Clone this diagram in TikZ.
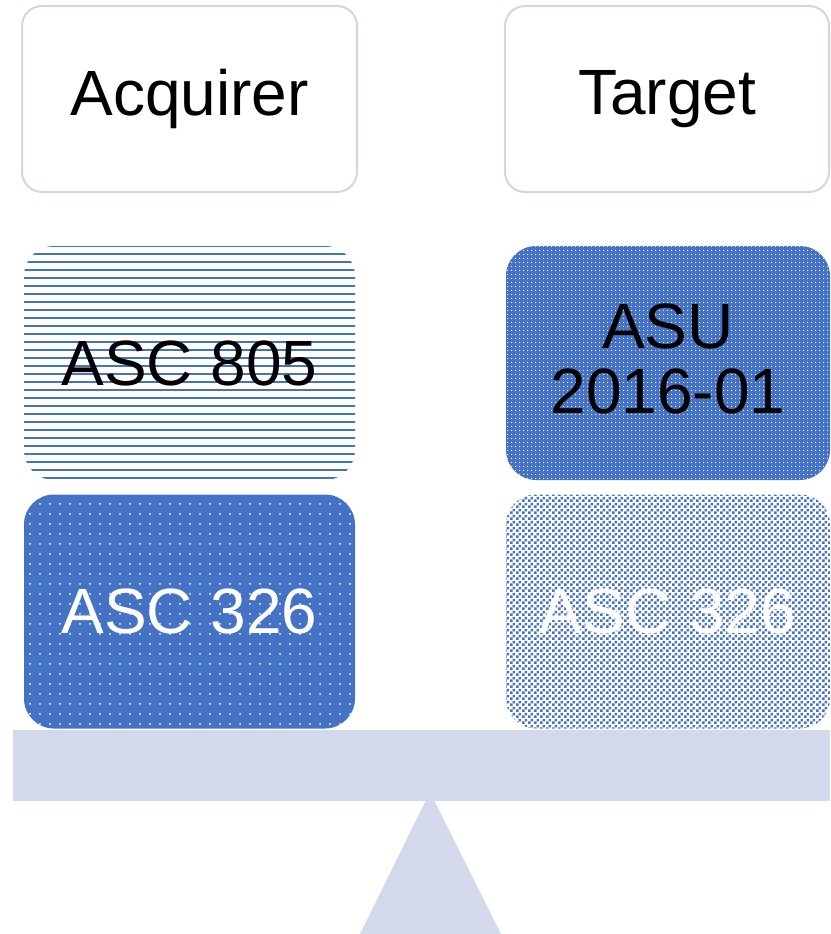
\documentclass[tikz,border=0pt]{standalone}
\usepackage{fontspec}
\setmainfont{Liberation Sans}
\usetikzlibrary{patterns.meta}
\definecolor{ofblue}{HTML}{4472C4}
\definecolor{pale}{HTML}{D3D8EB}
\definecolor{paleline}{HTML}{D0D6EA}
\tikzdeclarepattern{
  name=checker,
  type=uncolored,
  bottom left={(0pt,0pt)},
  top right={(6pt,6pt)},
  tile size={(6pt,6pt)},
  code={
    \fill (0pt,0pt) rectangle (3pt,3pt);
    \fill (3pt,3pt) rectangle (6pt,6pt);
  }
}
\tikzset{
  bigtext/.style={font=\fontsize{64}{65}\selectfont, align=center, inner sep=0pt},
  headbox/.style={draw=paleline, line width=2pt, fill=white, rounded corners=20pt,
    minimum width=335pt, minimum height=186pt, inner sep=0pt, bigtext},
  blockbox/.style={rounded corners=30pt, minimum width=331pt, minimum height=234pt,
    inner sep=0pt, bigtext},
  linesbox/.style={blockbox, preaction={fill=white},
    pattern={Lines[distance=8pt, line width=1.4pt]}, pattern color=ofblue, text=black},
  densedots/.style={blockbox, preaction={fill=ofblue},
    pattern={Dots[distance=4pt, radius=0.7pt]}, pattern color=white, text=black},
  sparsedots/.style={blockbox, preaction={fill=ofblue},
    pattern={Dots[distance=10pt, radius=1pt]}, pattern color=white, text=white},
  checkbox/.style={blockbox, preaction={fill=white},
    pattern=checker, pattern color=ofblue, text=white},
  base/.style={fill=pale}
}
\begin{document}
\begin{tikzpicture}[x=1pt, y=-1pt]
\useasboundingbox (0,0) rectangle (830,934);
\fill[white] (0,0) rectangle (830,934);
% headers
\node[headbox] (acq) at (189.5,99) {Acquirer};
\node[headbox, minimum width=324pt] (tgt) at (667,99) {Target};
% blocks
\node[linesbox] (asc805) at (189.5,363) {ASC 805};
\node[densedots, minimum width=324pt] (asu) at (668,363) {};
\node[bigtext, text=black] (asutext) at (668,359) {ASU\\2016-01};
\node[sparsedots] (asc326l) at (189.5,611.5) {ASC 326};
\node[checkbox, minimum width=324pt] (asc326r) at (668,611.5) {ASC 326};
% scale
\coordinate (apex) at (430,792);
\coordinate (bl) at (360,934);
\coordinate (br) at (501,934);
\fill[base] (apex) -- (br) -- (bl) -- cycle;
\node[base, minimum width=817pt, minimum height=71pt, inner sep=0pt] (beam) at (421.5,765.5) {};
\end{tikzpicture}
\end{document}
